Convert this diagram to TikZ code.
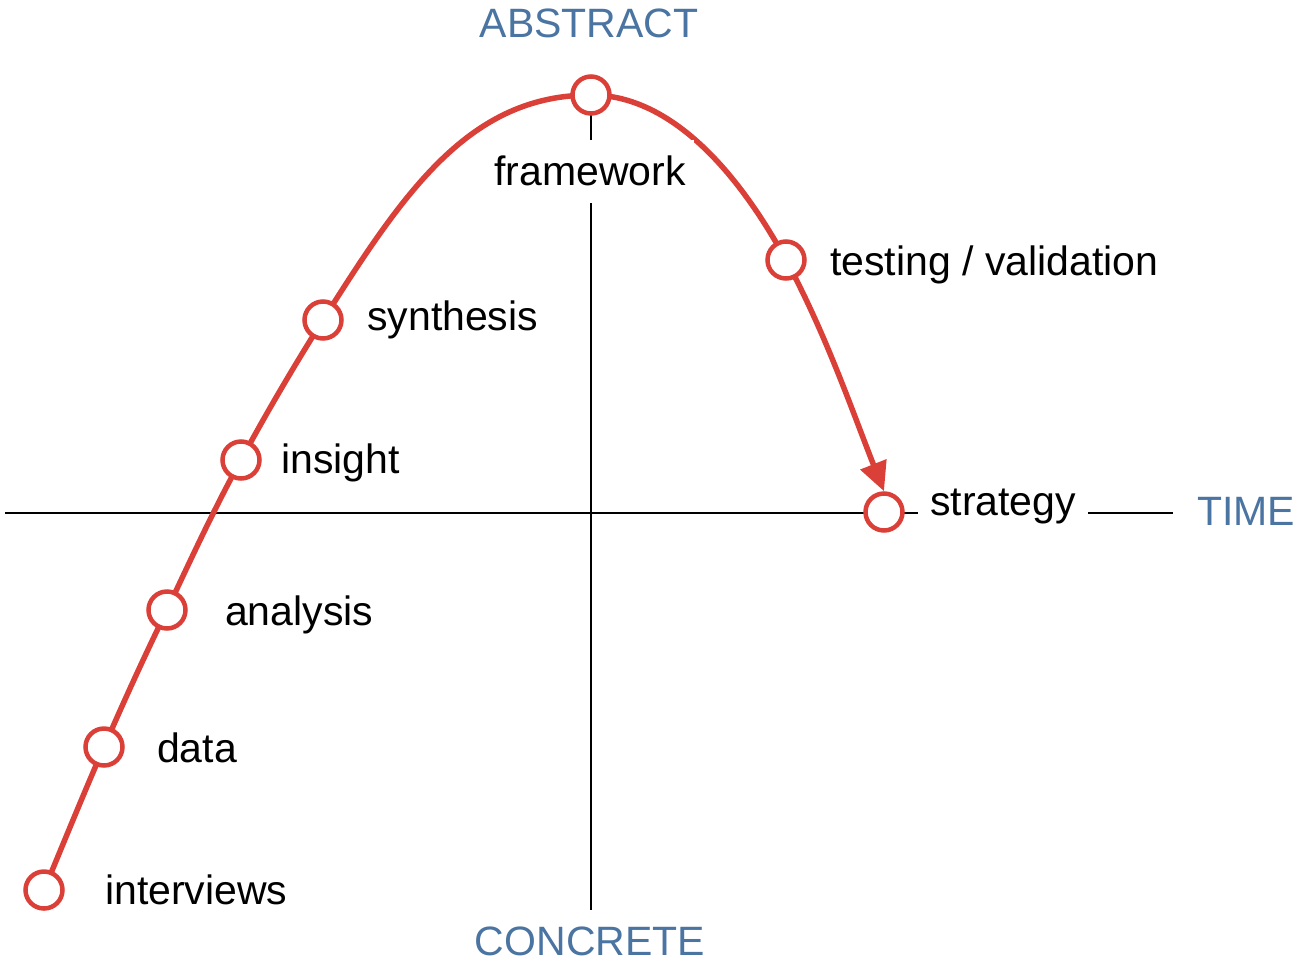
\documentclass[tikz,border=0pt]{standalone}
\usepackage{fontspec}
\setmainfont{Liberation Sans}
\usetikzlibrary{arrows.meta,backgrounds}
\definecolor{curvered}{RGB}{219,64,56}
\definecolor{axisblue}{RGB}{74,116,161}
\begin{document}
\begin{tikzpicture}[x=1pt,y=-1pt,
  every node/.style={font=\fontsize{41}{49}\selectfont},
  axisline/.style={line width=1.8pt, black},
  pathline/.style={line width=5.5pt, curvered},
  stage/.style={circle, draw=curvered, line width=4.5pt, fill=white, minimum size=37pt, inner sep=0pt},
  lbl/.style={anchor=base west, inner sep=0pt},
  axislbl/.style={anchor=base, text=axisblue, inner sep=0pt}]
\useasboundingbox (0,0) rectangle (1293,962);
% stages
\node[stage] (n1) at (44,890) {};
\node[stage] (n2) at (104,747) {};
\node[stage] (n3) at (167,610) {};
\node[stage] (n4) at (241,460) {};
\node[stage] (n5) at (323,320) {};
\node[stage] (n6) at (591,95) {};
\node[stage] (n7) at (786,260) {};
\node[stage] (n8) at (884,512) {};
% helper coordinates
\coordinate (hl) at (5,513);
\coordinate (hr) at (1173,513);
\coordinate (vb) at (591,910);
\begin{scope}[on background layer]
  \draw[axisline] (hl) -- (hr);
  \draw[axisline] (n6.center) -- (vb);
  \draw[pathline, -{Triangle[length=29pt,width=27pt]}]
    (n1.center) .. controls (64,842) and (83,795) .. (n2.center)
    .. controls (124,701) and (145,655) .. (n3.center)
    .. controls (191,559) and (214,509) .. (n4.center)
    .. controls (267,412) and (294,366) .. (n5.center)
    .. controls (405,190) and (470,95) .. (n6.center)
    .. controls (671,95) and (738,172) .. (n7.center)
    .. controls (826,334) and (853,413) .. (n8.north);
\end{scope}
% labels
\node[lbl] (l1) at (105,904) {interviews};
\node[lbl] (l2) at (157,762) {data};
\node[lbl] (l3) at (225,625) {analysis};
\node[lbl] (l4) at (281,473) {insight};
\node[lbl] (l5) at (367,330) {synthesis};
\node[anchor=base, fill=white, text height=30pt, text depth=3pt, inner ysep=15pt, inner xsep=8pt] (l6) at (590,185) {framework};
\node[lbl] (l7) at (830,275) {testing / validation};
\node[anchor=base west, fill=white, inner xsep=12pt, inner ysep=6pt] (l8) at (918,515) {strategy};
% axis labels
\node[axislbl] (abs) at (589,37) {ABSTRACT};
\node[axislbl] (con) at (590,955) {CONCRETE};
\node[anchor=base west, text=axisblue, inner sep=0pt] (tim) at (1197,525) {TIME};
\end{tikzpicture}
\end{document}
